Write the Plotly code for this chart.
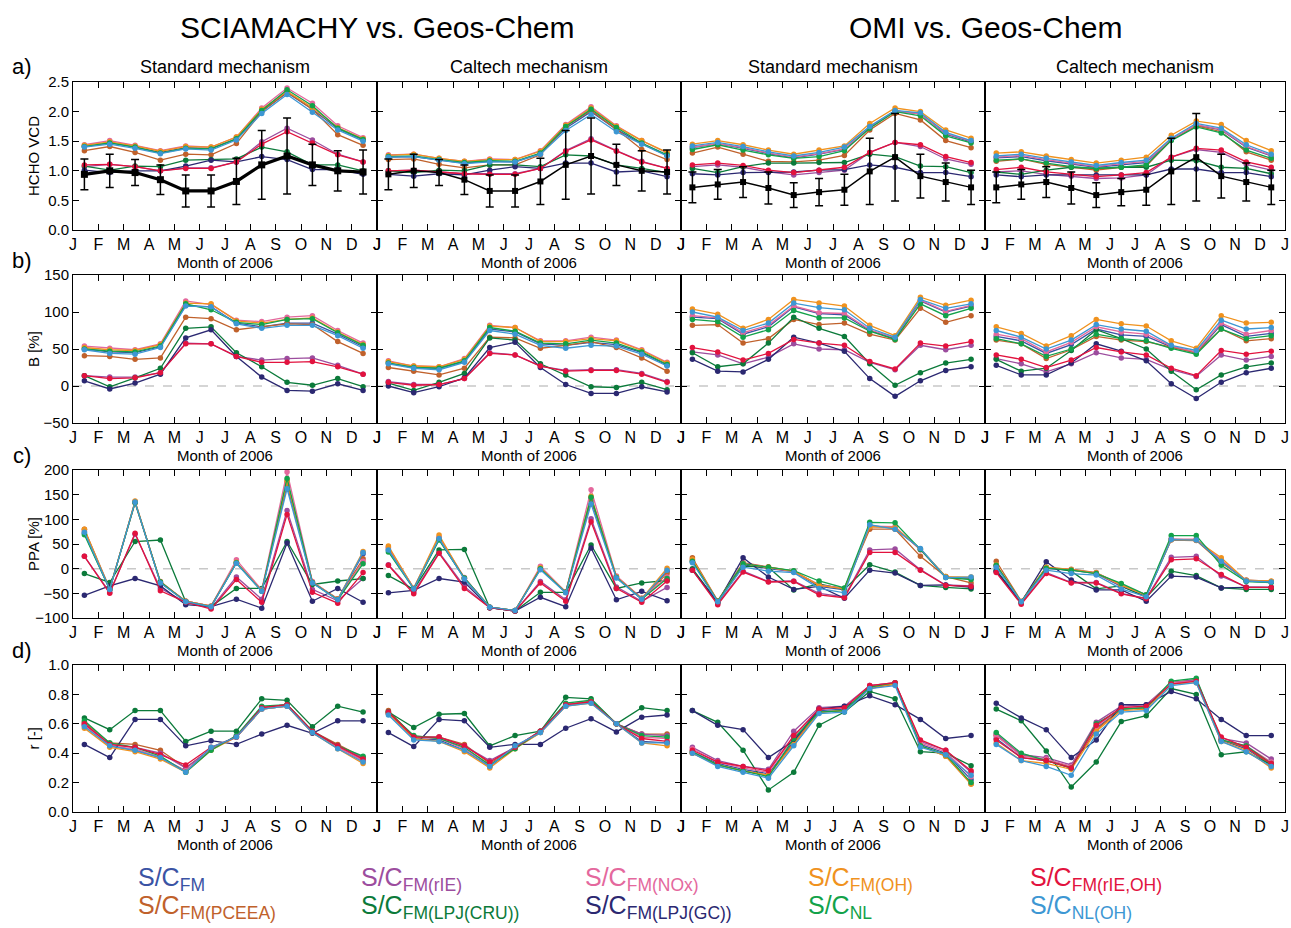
import numpy as np
import plotly.graph_objects as go
from plotly.subplots import make_subplots

# ---------------- data ----------------
MONTH_TICKS = ["J", "F", "M", "A", "M", "J", "J", "A", "S", "O", "N", "D", "J"]
SERIES = ["FM", "FM(PCEEA)", "FM(rIE)", "FM(LPJ(CRU))", "FM(NOx)",
          "FM(LPJ(GC))", "FM(OH)", "NL", "FM(rIE,OH)", "NL(OH)"]
COLORS = ["#3a53a4", "#c0612b", "#9c4d9e", "#0b7a3a", "#e4689d",
          "#2b2871", "#f0921e", "#12a24a", "#e2123e", "#3d97d3"]

SCIA_OBS = [0.94, 1.00, 0.97, 0.85, 0.66, 0.66, 0.82, 1.10, 1.25, 1.10, 1.00, 0.98]
SCIA_ERR = [0.26, 0.28, 0.22, 0.25, 0.27, 0.27, 0.39, 0.58, 0.64, 0.35, 0.34, 0.37]
OMI_OBS = [0.72, 0.77, 0.81, 0.71, 0.59, 0.64, 0.68, 0.99, 1.23, 0.91, 0.81, 0.72]
OMI_ERR = [0.26, 0.25, 0.26, 0.27, 0.21, 0.23, 0.26, 0.56, 0.74, 0.37, 0.32, 0.29]

# a) HCHO VCD
VCD_SCIA_STD = {
    "FM":           [1.41, 1.47, 1.40, 1.31, 1.39, 1.38, 1.54, 2.00, 2.32, 2.04, 1.71, 1.52],
    "FM(PCEEA)":    [1.34, 1.41, 1.31, 1.18, 1.28, 1.27, 1.46, 2.00, 2.33, 2.04, 1.61, 1.43],
    "FM(rIE)":      [1.07, 1.11, 1.07, 1.00, 1.05, 1.05, 1.15, 1.49, 1.72, 1.52, 1.28, 1.15],
    "FM(LPJ(CRU))": [1.08, 1.01, 1.08, 1.07, 1.18, 1.19, 1.20, 1.40, 1.32, 1.10, 1.10, 1.00],
    "FM(NOx)":      [1.44, 1.51, 1.43, 1.34, 1.42, 1.40, 1.57, 2.06, 2.40, 2.14, 1.76, 1.56],
    "FM(LPJ(GC))":  [1.01, 0.97, 1.00, 1.00, 1.08, 1.18, 1.15, 1.24, 1.19, 1.02, 1.02, 0.94],
    "FM(OH)":       [1.43, 1.49, 1.42, 1.33, 1.41, 1.40, 1.57, 2.04, 2.34, 2.07, 1.73, 1.54],
    "NL":           [1.41, 1.47, 1.40, 1.30, 1.38, 1.37, 1.54, 2.02, 2.37, 2.10, 1.72, 1.53],
    "FM(rIE,OH)":   [1.10, 1.11, 1.07, 1.00, 1.04, 1.04, 1.15, 1.45, 1.66, 1.47, 1.27, 1.15],
    "NL(OH)":       [1.40, 1.45, 1.38, 1.29, 1.37, 1.35, 1.52, 1.97, 2.29, 1.99, 1.69, 1.50],
}
VCD_SCIA_CAL = {
    "FM":           [1.23, 1.24, 1.18, 1.13, 1.16, 1.15, 1.29, 1.72, 2.00, 1.70, 1.46, 1.26],
    "FM(PCEEA)":    [1.19, 1.20, 1.11, 1.05, 1.10, 1.10, 1.27, 1.75, 2.02, 1.70, 1.36, 1.19],
    "FM(rIE)":      [1.00, 1.01, 0.98, 0.95, 0.95, 0.95, 1.04, 1.34, 1.54, 1.34, 1.16, 1.04],
    "FM(LPJ(CRU))": [1.00, 0.97, 1.01, 1.00, 1.10, 1.10, 1.07, 1.27, 1.25, 1.10, 1.04, 0.97],
    "FM(NOx)":      [1.27, 1.28, 1.21, 1.16, 1.20, 1.19, 1.34, 1.78, 2.08, 1.76, 1.51, 1.30],
    "FM(LPJ(GC))":  [0.94, 0.91, 0.95, 0.93, 1.01, 1.07, 1.04, 1.13, 1.13, 0.98, 1.00, 0.90],
    "FM(OH)":       [1.26, 1.28, 1.21, 1.16, 1.19, 1.19, 1.33, 1.77, 2.06, 1.75, 1.51, 1.31],
    "NL":           [1.24, 1.25, 1.19, 1.14, 1.17, 1.16, 1.30, 1.75, 2.04, 1.73, 1.47, 1.27],
    "FM(rIE,OH)":   [1.00, 1.01, 0.98, 0.95, 0.94, 0.94, 1.04, 1.33, 1.52, 1.33, 1.15, 1.04],
    "NL(OH)":       [1.23, 1.24, 1.18, 1.12, 1.15, 1.15, 1.28, 1.68, 1.95, 1.66, 1.45, 1.25],
}
VCD_OMI_STD = {
    "FM":           [1.39, 1.46, 1.38, 1.29, 1.22, 1.28, 1.36, 1.73, 2.01, 1.96, 1.62, 1.49],
    "FM(PCEEA)":    [1.30, 1.40, 1.28, 1.16, 1.15, 1.18, 1.26, 1.69, 1.97, 1.86, 1.51, 1.39],
    "FM(rIE)":      [1.07, 1.10, 1.06, 0.98, 0.93, 0.97, 1.01, 1.31, 1.48, 1.41, 1.20, 1.11],
    "FM(LPJ(CRU))": [1.04, 0.97, 1.07, 1.13, 1.13, 1.14, 1.14, 1.28, 1.24, 1.08, 1.07, 0.97],
    "FM(NOx)":      [1.40, 1.46, 1.39, 1.30, 1.23, 1.29, 1.37, 1.74, 2.01, 1.96, 1.63, 1.50],
    "FM(LPJ(GC))":  [0.95, 0.93, 0.97, 0.97, 0.98, 1.01, 1.02, 1.10, 1.06, 0.97, 0.97, 0.90],
    "FM(OH)":       [1.45, 1.51, 1.44, 1.35, 1.28, 1.35, 1.42, 1.80, 2.06, 2.00, 1.69, 1.55],
    "NL":           [1.36, 1.44, 1.35, 1.27, 1.21, 1.24, 1.34, 1.72, 2.00, 1.93, 1.59, 1.47],
    "FM(rIE,OH)":   [1.10, 1.13, 1.09, 1.01, 0.97, 1.01, 1.06, 1.31, 1.48, 1.44, 1.24, 1.14],
    "NL(OH)":       [1.42, 1.48, 1.41, 1.32, 1.25, 1.31, 1.40, 1.75, 2.02, 1.98, 1.65, 1.51],
}
VCD_OMI_CAL = {
    "FM":           [1.22, 1.24, 1.17, 1.11, 1.06, 1.10, 1.14, 1.53, 1.77, 1.69, 1.40, 1.25],
    "FM(PCEEA)":    [1.16, 1.20, 1.11, 1.06, 1.01, 1.06, 1.08, 1.52, 1.76, 1.66, 1.32, 1.18],
    "FM(rIE)":      [0.98, 1.00, 0.94, 0.91, 0.87, 0.88, 0.93, 1.23, 1.36, 1.31, 1.11, 1.01],
    "FM(LPJ(CRU))": [0.98, 0.94, 1.01, 1.06, 1.04, 1.06, 1.06, 1.18, 1.17, 1.06, 1.04, 0.95],
    "FM(NOx)":      [1.23, 1.26, 1.19, 1.13, 1.07, 1.12, 1.16, 1.53, 1.78, 1.70, 1.41, 1.26],
    "FM(LPJ(GC))":  [0.93, 0.90, 0.93, 0.93, 0.93, 0.93, 0.93, 1.03, 1.03, 0.97, 0.97, 0.90],
    "FM(OH)":       [1.30, 1.32, 1.25, 1.19, 1.13, 1.18, 1.23, 1.60, 1.84, 1.78, 1.51, 1.34],
    "NL":           [1.18, 1.20, 1.13, 1.07, 1.04, 1.06, 1.10, 1.51, 1.74, 1.64, 1.35, 1.21],
    "FM(rIE,OH)":   [1.02, 1.06, 0.98, 0.94, 0.90, 0.93, 0.97, 1.23, 1.38, 1.35, 1.15, 1.06],
    "NL(OH)":       [1.25, 1.28, 1.21, 1.15, 1.09, 1.14, 1.18, 1.55, 1.80, 1.72, 1.44, 1.28],
}

# b) Bias B [%]
B_SCIA_STD = {
    "FM":           [50, 46, 45, 53, 109, 107, 85, 80, 85, 85, 70, 53],
    "FM(PCEEA)":    [41, 40, 36, 38, 93, 91, 76, 80, 84, 83, 60, 44],
    "FM(rIE)":      [14, 12, 12, 18, 58, 57, 40, 35, 37, 38, 28, 16],
    "FM(LPJ(CRU))": [14, -1, 11, 24, 78, 80, 45, 26, 5, 1, 10, -1],
    "FM(NOx)":      [54, 51, 49, 57, 115, 110, 89, 87, 93, 95, 75, 58],
    "FM(LPJ(GC))":  [7, -4, 4, 16, 65, 76, 40, 12, -6, -7, 3, -6],
    "FM(OH)":       [52, 49, 48, 56, 112, 111, 88, 85, 90, 92, 73, 56],
    "NL":           [50, 47, 46, 54, 111, 103, 86, 83, 90, 91, 72, 55],
    "FM(rIE,OH)":   [14, 10, 11, 18, 57, 57, 40, 32, 32, 33, 26, 16],
    "NL(OH)":       [49, 44, 43, 52, 108, 107, 84, 78, 82, 82, 68, 51],
}
B_SCIA_CAL = {
    "FM":           [31, 25, 24, 33, 77, 73, 57, 55, 59, 56, 45, 28],
    "FM(PCEEA)":    [25, 20, 15, 24, 66, 65, 51, 55, 60, 52, 38, 20],
    "FM(rIE)":      [6, 2, 2, 10, 45, 42, 27, 21, 22, 22, 17, 6],
    "FM(LPJ(CRU))": [4, -6, 5, 17, 65, 62, 30, 15, -1, -2, 5, -5],
    "FM(NOx)":      [34, 27, 26, 37, 82, 79, 61, 61, 66, 62, 49, 32],
    "FM(LPJ(GC))":  [0, -9, -1, 11, 52, 59, 25, 2, -10, -10, -1, -8],
    "FM(OH)":       [33, 27, 26, 36, 81, 79, 60, 60, 64, 61, 48, 31],
    "NL":           [31, 25, 24, 34, 79, 74, 58, 57, 62, 58, 46, 29],
    "FM(rIE,OH)":   [5, 1, 2, 10, 44, 42, 27, 20, 21, 21, 16, 5],
    "NL(OH)":       [30, 24, 22, 32, 75, 70, 55, 51, 55, 54, 43, 27],
}
B_OMI_STD = {
    "FM":           [93, 91, 70, 80, 107, 98, 96, 75, 64, 115, 100, 108],
    "FM(PCEEA)":    [82, 83, 58, 64, 90, 83, 85, 70, 62, 105, 86, 95],
    "FM(rIE)":      [46, 42, 30, 39, 57, 50, 49, 32, 22, 55, 49, 55],
    "FM(LPJ(CRU))": [45, 26, 30, 58, 93, 78, 67, 30, 1, 18, 31, 36],
    "FM(NOx)":      [95, 92, 72, 82, 108, 99, 98, 76, 65, 116, 101, 109],
    "FM(LPJ(GC))":  [36, 20, 19, 36, 66, 58, 47, 10, -14, 7, 21, 26],
    "FM(OH)":       [104, 97, 78, 90, 117, 112, 108, 82, 68, 120, 109, 116],
    "NL":           [90, 87, 66, 76, 102, 92, 92, 74, 63, 111, 95, 105],
    "FM(rIE,OH)":   [52, 46, 35, 44, 63, 58, 55, 33, 23, 58, 54, 60],
    "NL(OH)":       [100, 93, 75, 85, 112, 106, 103, 78, 66, 117, 105, 111],
}
B_OMI_CAL = {
    "FM":           [67, 61, 44, 56, 77, 69, 67, 53, 45, 83, 67, 71],
    "FM(PCEEA)":    [62, 57, 37, 49, 67, 62, 60, 52, 45, 77, 61, 64],
    "FM(rIE)":      [37, 30, 19, 30, 45, 38, 36, 22, 13, 42, 35, 40],
    "FM(LPJ(CRU))": [36, 20, 24, 48, 76, 64, 50, 20, -5, 15, 26, 31],
    "FM(NOx)":      [70, 64, 46, 59, 80, 73, 70, 54, 46, 85, 70, 75],
    "FM(LPJ(GC))":  [28, 15, 15, 31, 57, 47, 34, 3, -17, 5, 18, 24],
    "FM(OH)":       [80, 71, 54, 68, 90, 84, 81, 61, 51, 95, 85, 86],
    "NL":           [64, 57, 40, 50, 70, 64, 61, 51, 43, 77, 64, 68],
    "FM(rIE,OH)":   [42, 36, 25, 35, 52, 46, 42, 24, 14, 48, 43, 47],
    "NL(OH)":       [75, 66, 50, 62, 83, 77, 74, 55, 48, 89, 77, 79],
}

# c) PPA [%]
PPA_SCIA_STD = {
    "FM":           [72, -42, 135, -28, -66, -76, 12, -45, 170, -28, -62, 30],
    "FM(PCEEA)":    [80, -40, 133, -26, -66, -76, 12, -44, 175, -27, -61, 20],
    "FM(rIE)":      [25, -48, 70, -40, -68, -80, -17, -62, 118, -42, -65, -20],
    "FM(LPJ(CRU))": [-10, -28, 55, 58, -67, -77, -40, -40, 55, -32, -25, -20],
    "FM(NOx)":      [76, -42, 136, -28, -66, -76, 18, -43, 196, -26, -62, 15],
    "FM(LPJ(GC))":  [-54, -35, -20, -35, -73, -77, -62, -80, 52, -66, -40, -68],
    "FM(OH)":       [80, -42, 137, -28, -66, -76, 13, -45, 178, -28, -62, 35],
    "NL":           [69, -42, 134, -27, -67, -77, 12, -46, 183, -28, -63, 10],
    "FM(rIE,OH)":   [25, -50, 72, -45, -68, -82, -22, -68, 110, -48, -70, -8],
    "NL(OH)":       [74, -42, 135, -29, -67, -77, 11, -46, 162, -29, -63, 33],
}
PPA_SCIA_CAL = {
    "FM":           [38, -40, 60, -20, -78, -85, 0, -48, 138, -17, -61, -5],
    "FM(PCEEA)":    [42, -40, 62, -19, -78, -85, 0, -47, 142, -16, -60, -10],
    "FM(rIE)":      [8, -48, 33, -36, -79, -86, -26, -63, 101, -37, -66, -38],
    "FM(LPJ(CRU))": [-14, -42, 38, 39, -79, -86, -48, -48, 48, -40, -29, -24],
    "FM(NOx)":      [44, -40, 64, -18, -78, -85, 5, -47, 160, -15, -60, -17],
    "FM(LPJ(GC))":  [-49, -44, -20, -27, -79, -86, -58, -77, 42, -63, -46, -65],
    "FM(OH)":       [46, -40, 68, -20, -78, -85, 2, -48, 147, -17, -61, 1],
    "NL":           [34, -41, 58, -19, -78, -85, 0, -48, 145, -18, -62, -20],
    "FM(rIE,OH)":   [7, -51, 31, -40, -79, -86, -29, -66, 95, -40, -68, -25],
    "NL(OH)":       [38, -41, 61, -21, -78, -85, -2, -49, 131, -19, -62, -3],
}
PPA_OMI_STD = {
    "FM":           [14, -66, 8, 0, -6, -36, -43, 87, 82, 40, -17, -20],
    "FM(PCEEA)":    [22, -65, 12, 4, -5, -33, -40, 80, 80, 25, -16, -29],
    "FM(rIE)":      [-2, -71, -5, -26, -25, -50, -57, 38, 40, -2, -33, -35],
    "FM(LPJ(CRU))": [0, -68, 5, 3, -43, -31, -42, 8, -7, -34, -38, -41],
    "FM(NOx)":      [17, -66, 11, 2, -6, -33, -40, 86, 85, 38, -17, -19],
    "FM(LPJ(GC))":  [-3, -68, 22, -17, -42, -36, -60, -3, -9, -34, -33, -38],
    "FM(OH)":       [19, -66, 10, 3, -5, -34, -41, 85, 83, 40, -16, -17],
    "NL":           [15, -66, 10, 3, -4, -25, -39, 94, 93, 39, -18, -22],
    "FM(rIE,OH)":   [-3, -73, -7, -27, -26, -53, -59, 33, 33, -3, -34, -36],
    "NL(OH)":       [12, -67, 3, -5, -8, -40, -49, 89, 80, 41, -18, -17],
}
PPA_OMI_CAL = {
    "FM":           [6, -67, 0, -3, -10, -36, -56, 60, 58, 16, -25, -27],
    "FM(PCEEA)":    [15, -66, 2, -1, -8, -33, -53, 58, 57, 12, -23, -26],
    "FM(rIE)":      [-6, -70, -8, -28, -28, -50, -60, 23, 25, -15, -37, -38],
    "FM(LPJ(CRU))": [-3, -68, 3, -5, -41, -35, -58, -5, -14, -39, -42, -42],
    "FM(NOx)":      [5, -67, 2, -2, -9, -34, -53, 60, 60, 18, -24, -26],
    "FM(LPJ(GC))":  [-5, -68, 14, -23, -43, -43, -66, -15, -17, -39, -38, -38],
    "FM(OH)":       [8, -67, 3, -2, -9, -33, -54, 59, 58, 22, -24, -25],
    "NL":           [7, -67, 1, -3, -10, -30, -53, 67, 67, 7, -26, -28],
    "FM(rIE,OH)":   [-8, -72, -10, -29, -29, -51, -61, 18, 20, -12, -38, -38],
    "NL(OH)":       [3, -67, -3, -10, -13, -41, -57, 59, 58, 15, -25, -27],
}

# d) correlation r [-]
R_SCIA_STD = {
    "FM":           [0.59, 0.45, 0.42, 0.37, 0.28, 0.43, 0.51, 0.70, 0.72, 0.54, 0.44, 0.35],
    "FM(PCEEA)":    [0.61, 0.47, 0.46, 0.42, 0.30, 0.43, 0.51, 0.71, 0.73, 0.55, 0.46, 0.37],
    "FM(rIE)":      [0.60, 0.46, 0.44, 0.40, 0.30, 0.43, 0.51, 0.71, 0.73, 0.55, 0.45, 0.37],
    "FM(LPJ(CRU))": [0.64, 0.56, 0.69, 0.69, 0.48, 0.55, 0.55, 0.77, 0.76, 0.58, 0.72, 0.68],
    "FM(NOx)":      [0.59, 0.45, 0.43, 0.37, 0.28, 0.43, 0.51, 0.70, 0.72, 0.54, 0.44, 0.35],
    "FM(LPJ(GC))":  [0.46, 0.37, 0.63, 0.63, 0.45, 0.485, 0.46, 0.53, 0.59, 0.535, 0.62, 0.62],
    "FM(OH)":       [0.57, 0.44, 0.41, 0.36, 0.27, 0.42, 0.51, 0.70, 0.72, 0.54, 0.43, 0.33],
    "NL":           [0.62, 0.47, 0.44, 0.38, 0.27, 0.42, 0.52, 0.72, 0.73, 0.55, 0.45, 0.38],
    "FM(rIE,OH)":   [0.60, 0.46, 0.44, 0.39, 0.32, 0.44, 0.51, 0.71, 0.73, 0.55, 0.45, 0.36],
    "NL(OH)":       [0.58, 0.45, 0.42, 0.37, 0.27, 0.44, 0.51, 0.70, 0.72, 0.54, 0.43, 0.34],
}
R_SCIA_CAL = {
    "FM":           [0.67, 0.50, 0.49, 0.42, 0.31, 0.44, 0.54, 0.72, 0.75, 0.60, 0.48, 0.47],
    "FM(PCEEA)":    [0.69, 0.51, 0.51, 0.46, 0.33, 0.44, 0.55, 0.73, 0.75, 0.60, 0.53, 0.53],
    "FM(rIE)":      [0.68, 0.51, 0.51, 0.45, 0.35, 0.44, 0.55, 0.73, 0.75, 0.60, 0.53, 0.52],
    "FM(LPJ(CRU))": [0.68, 0.575, 0.665, 0.67, 0.45, 0.52, 0.55, 0.78, 0.77, 0.60, 0.71, 0.69],
    "FM(NOx)":      [0.67, 0.51, 0.50, 0.43, 0.32, 0.44, 0.55, 0.73, 0.75, 0.60, 0.51, 0.50],
    "FM(LPJ(GC))":  [0.54, 0.445, 0.63, 0.62, 0.44, 0.46, 0.46, 0.57, 0.635, 0.545, 0.645, 0.66],
    "FM(OH)":       [0.67, 0.50, 0.48, 0.41, 0.30, 0.43, 0.54, 0.72, 0.74, 0.60, 0.47, 0.45],
    "NL":           [0.68, 0.52, 0.50, 0.44, 0.32, 0.43, 0.55, 0.74, 0.76, 0.60, 0.52, 0.51],
    "FM(rIE,OH)":   [0.68, 0.51, 0.51, 0.45, 0.34, 0.44, 0.55, 0.73, 0.75, 0.60, 0.50, 0.48],
    "NL(OH)":       [0.66, 0.49, 0.48, 0.42, 0.31, 0.45, 0.54, 0.72, 0.74, 0.60, 0.47, 0.47],
}
R_OMI_STD = {
    "FM":           [0.41, 0.33, 0.29, 0.26, 0.48, 0.69, 0.70, 0.85, 0.87, 0.46, 0.40, 0.22],
    "FM(PCEEA)":    [0.40, 0.32, 0.28, 0.25, 0.47, 0.68, 0.69, 0.84, 0.87, 0.45, 0.38, 0.19],
    "FM(rIE)":      [0.44, 0.35, 0.31, 0.29, 0.55, 0.71, 0.72, 0.86, 0.88, 0.48, 0.42, 0.27],
    "FM(LPJ(CRU))": [0.69, 0.61, 0.42, 0.15, 0.27, 0.59, 0.68, 0.82, 0.77, 0.41, 0.40, 0.315],
    "FM(NOx)":      [0.43, 0.34, 0.30, 0.27, 0.51, 0.70, 0.71, 0.86, 0.88, 0.47, 0.41, 0.24],
    "FM(LPJ(GC))":  [0.69, 0.59, 0.56, 0.37, 0.485, 0.70, 0.72, 0.79, 0.73, 0.63, 0.50, 0.52],
    "FM(OH)":       [0.40, 0.32, 0.28, 0.25, 0.46, 0.68, 0.69, 0.85, 0.87, 0.45, 0.38, 0.19],
    "NL":           [0.41, 0.32, 0.28, 0.24, 0.50, 0.68, 0.69, 0.85, 0.88, 0.45, 0.39, 0.20],
    "FM(rIE,OH)":   [0.42, 0.34, 0.31, 0.28, 0.52, 0.70, 0.71, 0.86, 0.88, 0.49, 0.42, 0.28],
    "NL(OH)":       [0.40, 0.31, 0.27, 0.23, 0.45, 0.67, 0.68, 0.84, 0.86, 0.44, 0.39, 0.25],
}
R_OMI_CAL = {
    "FM":           [0.50, 0.37, 0.35, 0.30, 0.57, 0.70, 0.71, 0.88, 0.89, 0.49, 0.43, 0.32],
    "FM(PCEEA)":    [0.52, 0.39, 0.35, 0.31, 0.56, 0.70, 0.71, 0.88, 0.90, 0.49, 0.44, 0.32],
    "FM(rIE)":      [0.53, 0.39, 0.37, 0.32, 0.61, 0.72, 0.73, 0.88, 0.90, 0.50, 0.47, 0.36],
    "FM(LPJ(CRU))": [0.70, 0.62, 0.415, 0.17, 0.34, 0.615, 0.655, 0.84, 0.80, 0.39, 0.41, 0.32],
    "FM(NOx)":      [0.52, 0.38, 0.36, 0.31, 0.58, 0.71, 0.72, 0.88, 0.89, 0.49, 0.45, 0.34],
    "FM(LPJ(GC))":  [0.74, 0.64, 0.56, 0.37, 0.49, 0.73, 0.73, 0.82, 0.77, 0.63, 0.52, 0.52],
    "FM(OH)":       [0.47, 0.35, 0.33, 0.29, 0.55, 0.69, 0.70, 0.87, 0.88, 0.48, 0.42, 0.30],
    "NL":           [0.54, 0.40, 0.35, 0.30, 0.60, 0.70, 0.71, 0.89, 0.91, 0.49, 0.45, 0.33],
    "FM(rIE,OH)":   [0.49, 0.37, 0.35, 0.30, 0.59, 0.71, 0.72, 0.87, 0.89, 0.51, 0.44, 0.33],
    "NL(OH)":       [0.46, 0.35, 0.31, 0.25, 0.53, 0.68, 0.69, 0.86, 0.88, 0.48, 0.41, 0.31],
}

PANEL_DATA = [
    [VCD_SCIA_STD, VCD_SCIA_CAL, VCD_OMI_STD, VCD_OMI_CAL],
    [B_SCIA_STD, B_SCIA_CAL, B_OMI_STD, B_OMI_CAL],
    [PPA_SCIA_STD, PPA_SCIA_CAL, PPA_OMI_STD, PPA_OMI_CAL],
    [R_SCIA_STD, R_SCIA_CAL, R_OMI_STD, R_OMI_CAL],
]
OBS = [(SCIA_OBS, SCIA_ERR), (SCIA_OBS, SCIA_ERR), (OMI_OBS, OMI_ERR), (OMI_OBS, OMI_ERR)]
ROW_TITLES = ["HCHO VCD", "B [%]", "PPA [%]", "r [-]"]
ROW_LETTERS = ["a)", "b)", "c)", "d)"]
COL_TITLES = ["Standard mechanism", "Caltech mechanism", "Standard mechanism", "Caltech mechanism"]
Y_RANGES = [[0, 2.5], [-50, 150], [-100, 200], [0, 1.0]]
Y_TICKS = [[0, 0.5, 1.0, 1.5, 2.0, 2.5], [-50, 0, 50, 100, 150],
           [-100, -50, 0, 50, 100, 150, 200], [0, 0.2, 0.4, 0.6, 0.8, 1.0]]
Y_FMT = [".1f", "d", "d", ".1f"]

# ---------------- layout geometry (pixels) ----------------
W, H = 1291, 928
COL_EDGES = [73, 377, 681, 985, 1285]
ROW_EDGES = [(82, 230), (275, 423), (470, 618), (665, 812)]
FONT = "Liberation Sans, Arial, Helvetica, sans-serif"


def px(x):
    return x / W


def py(y):
    return 1 - y / H


x_month = np.arange(12) + 0.45

fig = make_subplots(rows=4, cols=4)

for r in range(4):
    for c in range(4):
        data = PANEL_DATA[r][c]
        for name, color in zip(SERIES, COLORS):
            fig.add_trace(go.Scatter(
                x=x_month, y=data[name], mode="lines+markers", name=name,
                line=dict(color=color, width=1.3),
                marker=dict(color=color, size=5.5, symbol="circle"),
                showlegend=False), row=r + 1, col=c + 1)
        if r == 0:
            obs, err = OBS[c]
            fig.add_trace(go.Scatter(
                x=x_month, y=obs, mode="lines+markers", name="obs",
                line=dict(color="black", width=3.2 if c == 0 else 1.5),
                marker=dict(color="black", size=7 if c == 0 else 6, symbol="square"),
                error_y=dict(type="data", array=err, visible=True, color="black",
                             thickness=1.5, width=4),
                showlegend=False), row=1, col=c + 1)

        idx = r * 4 + c + 1
        xa = "xaxis" if idx == 1 else f"xaxis{idx}"
        ya = "yaxis" if idx == 1 else f"yaxis{idx}"
        fig.layout[xa].update(
            domain=[px(COL_EDGES[c]), px(COL_EDGES[c + 1])],
            range=[0, 12], tickmode="array", tickvals=list(range(13)),
            ticktext=MONTH_TICKS, ticks="inside", ticklen=6, tickwidth=1,
            tickcolor="black", showline=True, linecolor="black", linewidth=1,
            mirror="ticks", showgrid=False, zeroline=False,
            tickfont=dict(family=FONT, size=16, color="black"))
        y0, y1 = ROW_EDGES[r]
        fig.layout[ya].update(
            domain=[py(y1), py(y0)], range=Y_RANGES[r], tickmode="array",
            tickvals=Y_TICKS[r], tickformat=Y_FMT[r], ticks="inside", ticklen=6,
            tickwidth=1, tickcolor="black", showline=True, linecolor="black",
            linewidth=1, mirror="ticks", showgrid=False, zeroline=False,
            showticklabels=(c == 0),
            tickfont=dict(family=FONT, size=15, color="black"))
        if r in (1, 2):
            xref = "x" if idx == 1 else f"x{idx}"
            yref = "y" if idx == 1 else f"y{idx}"
            fig.add_shape(type="line", xref=f"{xref} domain", yref=yref,
                          x0=0, x1=1, y0=0, y1=0, layer="below",
                          line=dict(color="#c8c8c8", width=1.5, dash="dash"))

annotations = []
# main titles
annotations.append(dict(text="SCIAMACHY vs. Geos-Chem", x=px(377), y=py(28),
                        font=dict(family=FONT, size=30, color="black")))
annotations.append(dict(text="OMI vs. Geos-Chem", x=px(985), y=py(28),
                        font=dict(family=FONT, size=30, color="black")))
for c in range(4):
    cx = (COL_EDGES[c] + COL_EDGES[c + 1]) / 2
    annotations.append(dict(text=COL_TITLES[c], x=px(cx), y=py(67),
                            font=dict(family=FONT, size=18, color="black")))
    for r in range(4):
        annotations.append(dict(text="Month of 2006", x=px(cx),
                                y=py(ROW_EDGES[r][1] + 32),
                                font=dict(family=FONT, size=15, color="black")))
for r in range(4):
    y0, y1 = ROW_EDGES[r]
    annotations.append(dict(text=ROW_TITLES[r], x=px(33), y=py((y0 + y1) / 2),
                            textangle=-90,
                            font=dict(family=FONT, size=15, color="black")))
    annotations.append(dict(text=ROW_LETTERS[r], x=px(22), y=py(y0 - 15),
                            font=dict(family=FONT, size=22, color="black")))

# colour-coded legend (text only)
LEG_X = [136, 359, 583, 806, 1028]
LEG_Y = [879, 907]
for i, (name, color) in enumerate(zip(SERIES, COLORS)):
    col = i // 2
    row = i % 2
    annotations.append(dict(
        text=f"S/C<sub>{name}</sub>", x=px(LEG_X[col]), y=py(LEG_Y[row]),
        xanchor="left", yanchor="middle",
        font=dict(family=FONT, size=25, color=color)))

for a in annotations:
    a.setdefault("xref", "paper")
    a.setdefault("yref", "paper")
    a.setdefault("showarrow", False)
    a.setdefault("xanchor", "center")
    a.setdefault("yanchor", "middle")

fig.update_layout(
    width=W, height=H, annotations=annotations,
    margin=dict(l=0, r=0, t=0, b=0, autoexpand=False),
    paper_bgcolor="white", plot_bgcolor="white", showlegend=False,
    font=dict(family=FONT, color="black"))

fig.write_html("out.html", config={"displayModeBar": False},
               post_script="document.body.style.margin='0px';"
                           "document.body.style.overflow='hidden';")
